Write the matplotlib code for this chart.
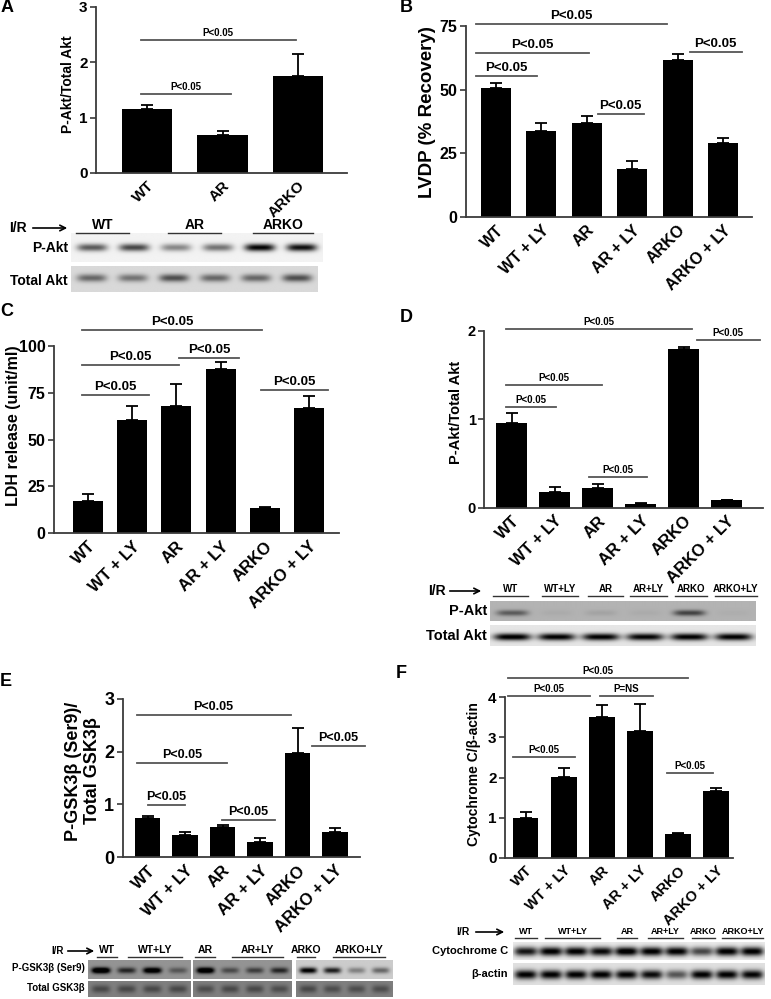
import numpy as np
import matplotlib
matplotlib.use("Agg")
import matplotlib.pyplot as plt

plt.rcParams['font.family'] = 'Liberation Sans'
plt.rcParams['font.weight'] = 'bold'

W, H = 771, 999
fig = plt.figure(figsize=(W / 100, H / 100), dpi=100)

groups6 = ["WT", "WT + LY", "AR", "AR + LY", "ARKO", "ARKO + LY"]
groups3 = ["WT", "AR", "ARKO"]

# bar heights and top of error bar
a_vals = [1.15, 0.68, 1.75]
a_tops = [1.22, 0.76, 2.15]
b_vals = [50.6, 33.8, 36.8, 18.8, 61.7, 29.0]
b_tops = [52.5, 37.1, 39.7, 22.1, 63.9, 31.0]
c_vals = [16.9, 60.2, 67.7, 87.7, 13.5, 66.8]
c_tops = [20.9, 68.1, 79.7, 91.6, 13.9, 73.1]
d_vals = [0.96, 0.18, 0.226, 0.04, 1.79, 0.083]
d_tops = [1.07, 0.23, 0.27, 0.05, 1.82, 0.09]
e_vals = [0.737, 0.43, 0.58, 0.29, 1.97, 0.485]
e_tops = [0.79, 0.485, 0.62, 0.365, 2.44, 0.55]
f_vals = [0.98, 2.02, 3.52, 3.17, 0.59, 1.66]
f_tops = [1.15, 2.23, 3.81, 3.83, 0.62, 1.75]

# significance lines: (from, to, height, text)
a_sig = [(-0.08, 1.11, 1.43, "P<0.05"), (-0.08, 1.97, 2.4, "P<0.05")]
b_sig = [(-0.44, 3.76, 75.7, "P<0.05"), (-0.44, 2.05, 64.5, "P<0.05"),
         (-0.44, 0.90, 55.5, "P<0.05"), (2.24, 3.26, 40.5, "P<0.05"),
         (4.27, 5.41, 64.7, "P<0.05")]
c_sig = [(-0.14, 3.94, 108.4, "P<0.05"), (-0.14, 2.06, 89.7, "P<0.05"),
         (-0.14, 1.38, 73.6, "P<0.05"), (2.06, 3.42, 93.6, "P<0.05"),
         (3.91, 5.43, 76.3, "P<0.05")]
d_sig = [(-0.14, 4.19, 2.02, "P<0.05"), (-0.14, 2.09, 1.386, "P<0.05"),
         (-0.14, 1.02, 1.134, "P<0.05"), (1.80, 3.14, 0.343, "P<0.05"),
         (4.30, 5.77, 1.895, "P<0.05")]
e_sig = [(-0.29, 3.82, 2.69, "P<0.05"), (-0.29, 2.13, 1.79, "P<0.05"),
         (0.0, 1.0, 0.99, "P<0.05"), (1.98, 3.40, 0.70, "P<0.05"),
         (4.38, 5.80, 2.10, "P<0.05")]
f_sig = [(-0.46, 4.27, 4.49, "P<0.05"), (-0.46, 1.69, 4.02, "P<0.05"),
         (1.96, 3.35, 4.02, "P=NS"), (-0.33, 1.30, 2.5, "P<0.05"),
         (3.71, 4.92, 2.1, "P<0.05")]

# western blot band darkness per lane
a_pakt = [0.6, 0.68, 0.42, 0.5, 0.95, 0.9]
a_total = [0.45, 0.40, 0.55, 0.45, 0.45, 0.55]
d_pakt = [0.35, 0.03, 0.06, 0.03, 0.45, 0.02]
d_total = [0.95, 0.92, 0.92, 0.9, 0.92, 0.92]
e_pgsk = [[0.85, 0.45, 0.75, 0.25], [0.8, 0.3, 0.35, 0.45], [0.85, 0.7, 0.3, 0.4]]
e_total = [[0.22, 0.22, 0.22, 0.22], [0.2, 0.22, 0.22, 0.2], [0.22, 0.2, 0.2, 0.2]]
f_cyto = [0.85, 0.95, 0.95, 0.9, 1.0, 0.95, 0.95, 0.65, 0.95, 0.95]
f_actin = [0.9, 0.9, 0.9, 0.9, 0.88, 0.85, 0.55, 0.9, 0.9, 0.88]


def px_axes(L, T, R, B):
    return fig.add_axes([L / W, 1 - B / H, (R - L) / W, (B - T) / H])


def bar_panel(box, c0, step, names, vals, tops, yticks, sig, tfs, xfs, sfs, width):
    L, T, R, B = box
    ax = px_axes(L, T, R, B)
    x = np.arange(len(vals))
    up = np.array(tops) - np.array(vals)
    ax.errorbar(x, vals, yerr=[np.zeros(len(up)), up], fmt='none', ecolor='black',
                elinewidth=1.3, capsize=4, capthick=1.3, zorder=1)
    ax.bar(x, vals, width=width, color='black', zorder=2)
    ax.set_xlim((L - c0) / step, (R - c0) / step)
    ax.set_ylim(0, yticks[-1])
    ax.set_yticks(yticks)
    ax.set_yticklabels([str(t) for t in yticks], fontsize=tfs, fontweight='bold')
    ax.set_xticks(x)
    ax.set_xticklabels(names, rotation=45, ha='right', rotation_mode='anchor',
                       fontsize=xfs, fontweight='bold')
    ax.tick_params(axis='x', length=0, pad=4)
    ax.tick_params(axis='y', length=4, width=1.2, color='#3a3a3a', pad=2)
    for s in ['top', 'right']:
        ax.spines[s].set_visible(False)
    for s in ['left', 'bottom']:
        ax.spines[s].set_color('#3a3a3a')
        ax.spines[s].set_linewidth(1.3)
    ax.set_facecolor('none')
    for x0, x1, y, t in sig:
        ax.plot([x0, x1], [y, y], color='#555555', lw=1.3, clip_on=False)
        ax.annotate(t, xy=((x0 + x1) / 2, y), xytext=(0, 1.5), textcoords='offset points',
                    ha='center', va='bottom', fontsize=sfs, fontweight='bold',
                    annotation_clip=False)
    return ax


def blot(box, vals, bg, yc=0.5, bw=0.36, bh=0.15):
    ax = px_axes(*box)
    n = len(vals)
    X, Y = np.meshgrid(np.linspace(0, n, 400), np.linspace(0, 1, 60))
    img = np.full(X.shape, bg)
    for i, v in enumerate(vals):
        img = img + v * np.exp(-np.abs((X - i - 0.5) / bw) ** 4) * np.exp(-((Y - yc) / bh) ** 2)
    ax.imshow(np.clip(img, 0, 1), cmap='gray_r', vmin=0, vmax=1, aspect='auto',
              extent=(0, n, 1, 0), interpolation='bilinear')
    ax.set_axis_off()


bar_panel((96, 7, 347, 173), 147, 75.5, groups3, a_vals, a_tops, [0, 1, 2, 3], a_sig, 11, 11, 7, 0.675)
bar_panel((466, 26, 752, 217), 495.7, 45.46, groups6, b_vals, b_tops, [0, 25, 50, 75], b_sig, 11.5, 11.5, 9.5, 0.66)
bar_panel((54, 346, 339, 533), 88, 44.2, groups6, c_vals, c_tops, [0, 25, 50, 75, 100], c_sig, 11.5, 12, 9.5, 0.68)
bar_panel((484, 330.7, 763, 507.7), 511.7, 43, groups6, d_vals, d_tops, [0, 1, 2], d_sig, 10.5, 12, 7, 0.72)
bar_panel((122.7, 698.7, 360, 857.3), 147.5, 37.5, groups6, e_vals, e_tops, [0, 1, 2, 3], e_sig, 13, 12, 9, 0.67)
bar_panel((505, 697.3, 733, 857.7), 525.5, 38.1, groups6, f_vals, f_tops, [0, 1, 2, 3, 4], f_sig, 11, 10.5, 7, 0.68)

blot((71, 233, 323, 262), a_pakt, 0.05, yc=0.5, bh=0.13)
blot((71, 266, 318, 292), a_total, 0.15, yc=0.46, bh=0.15)
blot((490, 600.7, 755, 620.7), d_pakt, 0.3, yc=0.6, bh=0.15)
blot((490, 625, 755, 646), d_total, 0.1, yc=0.57, bh=0.17, bw=0.42)
for i, (L, R) in enumerate([(88, 191), (193, 292), (296, 393)]):
    blot((L, 960, R, 979), e_pgsk[i], 0.42 if i < 2 else 0.2, yc=0.55, bh=0.16)
    blot((L, 981, R, 997), e_total[i], 0.5, yc=0.5, bh=0.25)
blot((513, 941.7, 765, 960), f_cyto, 0.08, yc=0.55, bh=0.24, bw=0.46)
blot((513, 963, 765, 985), f_actin, 0.12, yc=0.55, bh=0.2, bw=0.44)

# overlay in pixel coords for labels
ov = fig.add_axes([0, 0, 1, 1])
ov.set_xlim(0, W)
ov.set_ylim(H, 0)
ov.set_axis_off()


def txt(x, y, s, fs, ha='center', rot=0, fam=None):
    ov.text(x, y, s, fontsize=fs, fontweight='bold', ha=ha, va='center', rotation=rot,
            family=fam if fam else 'Liberation Sans')


def lane_labels(items, ty, ly, fs, fam=None):
    for s, x0, x1 in items:
        txt((x0 + x1) / 2, ty, s, fs, fam=fam)
        ov.plot([x0, x1], [ly, ly], color='#333333', lw=1)


def ir_arrow(tx, x0, x1, y, fs):
    txt(tx, y, "I/R", fs)
    ov.annotate('', xy=(x1, y), xytext=(x0, y),
                arrowprops=dict(arrowstyle='->', lw=1.2, color='black'))


narrow = ['Liberation Sans Narrow', 'Liberation Sans']

# panel letters
for s, x, y in [("A", 1, 8), ("B", 400, 8), ("C", 0, 311), ("D", 400, 317), ("E", 0, 681), ("F", 396, 674)]:
    txt(x, y, s, 13, ha='left')

# y labels
txt(68, 84, "P-Akt/Total Akt", 10, rot=90)
txt(428, 112, "LVDP (% Recovery)", 13.5, rot=90)
txt(14, 426, "LDH release (unit/ml)", 11.5, rot=90)
txt(456, 412, "P-Akt/Total Akt", 10.5, rot=90)
txt(83, 771, "P-GSK3β (Ser9)/\nTotal GSK3β", 13, rot=90)
txt(474, 774, "Cytochrome C/β-actin", 10, rot=90)

# blot A labels
ir_arrow(18, 30, 70, 228, 10)
lane_labels([("WT", 76, 129), ("AR", 168, 221), ("ARKO", 253, 313)], 225, 233, 10)
txt(68, 248, "P-Akt", 10, ha='right')
txt(68, 281, "Total Akt", 10, ha='right')

# blot D labels
ir_arrow(437, 447, 484, 591, 10)
lane_labels([("WT", 493, 528), ("WT+LY", 542, 578), ("AR", 588, 623),
             ("AR+LY", 630, 667), ("ARKO", 675, 707), ("ARKO+LY", 715, 757)], 589, 596, 7, fam=narrow)
txt(487, 611, "P-Akt", 10.5, ha='right')
txt(487, 636, "Total Akt", 10.5, ha='right')

# blot E labels
ir_arrow(58, 65, 97, 951, 7)
lane_labels([("WT", 97, 117), ("WT+LY", 128, 182), ("AR", 195, 215),
             ("AR+LY", 232, 283), ("ARKO", 297, 315), ("ARKO+LY", 333, 385)], 950, 956.5, 7.5, fam=narrow)
txt(85, 968, "P-GSK3β (Ser9)", 7, ha='right', fam=narrow)
txt(85, 988, "Total GSK3β", 7, ha='right', fam=narrow)

# blot F labels
ir_arrow(463, 473, 507, 932, 7.5)
lane_labels([("WT", 515, 537), ("WT+LY", 545, 600), ("AR", 617, 637),
             ("AR+LY", 648, 683), ("ARKO", 692, 715), ("ARKO+LY", 722, 763)], 931, 938, 6.5, fam=narrow)
txt(508, 951, "Cytochrome C", 8, ha='right', fam=narrow)
txt(508, 974, "β-actin", 8, ha='right', fam=narrow)

fig.savefig("out.png", dpi=100)
